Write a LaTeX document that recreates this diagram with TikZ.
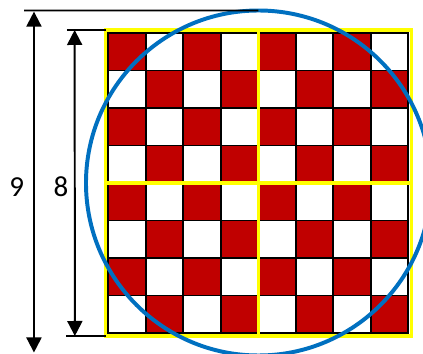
\documentclass[tikz,border=0pt]{standalone}
\usepackage{fontspec}
\setmainfont{Carlito}
\usepackage{xcolor}
\usetikzlibrary{
    arrows.meta,
    positioning,
    calc
}
\definecolor{boardred}{HTML}{C00000}
\definecolor{coinblue}{HTML}{0070C0}
\definecolor{quadyellow}{HTML}{FFFF00}
\tikzset{
    redcell/.style={
        draw=black,
        fill=boardred,
        line width=1.5pt
    }
}
\tikzset{
    whitecell/.style={
        draw=black,
        fill=white,
        line width=1.5pt
    }
}
\tikzset{
    quadrant/.style={
        draw=quadyellow,
        line width=2.6pt
    }
}
\tikzset{
    coin/.style={
        circle,
        draw=coinblue,
        line width=3pt,
        minimum size=9.2cm,
        inner sep=0pt,
        outer sep=0pt
    }
}
\tikzset{
    dimarrow/.style={
        draw=black,
        line width=1.5pt,
        <->,
        >={Triangle[length=4mm,width=4mm]}
    }
}
\tikzset{
    extline/.style={
        draw=black,
        line width=1.5pt
    }
}
\tikzset{
    dimlabel/.style={
        font=\fontsize{22}{26}\selectfont,
        inner sep=0pt
    }
}

\begin{document}
\begin{tikzpicture}

\useasboundingbox (-2.893,-0.56) rectangle (8.387,8.88);
\clip (-2.893,-0.56) rectangle (8.387,8.88);

% checkerboard
\foreach \col in {0,...,7}
  \foreach \row in {0,...,7}{
    \pgfmathtruncatemacro{\parity}{mod(\col+\row,2)}
    \ifnum\parity=1
      \draw[redcell] (\col,\row) rectangle ++(1,1);
    \else
      \draw[whitecell] (\col,\row) rectangle ++(1,1);
    \fi
  }

% quadrants
\coordinate (boardsw) at (-0.075,-0.075);
\coordinate (boardne) at (8.075,8.075);
\draw[quadrant] (boardsw) rectangle (boardne);
\draw[quadrant] (4,-0.075) -- (4,8.075);
\draw[quadrant] (-0.075,4) -- (8.075,4);

\node[coin] (circ) at (4,4) {};

% dimension 9
\coordinate (ninetick) at (-2.25,8.6);
\coordinate (ninetop) at (-1.987,8.57);
\coordinate (ninebot) at (-1.987,-0.52);
\draw[extline] (ninetick) -- (circ.north);
\draw[dimarrow] (ninetop) -- (ninebot);
\node[dimlabel] (nine) at (-2.45,3.89) {9};

% dimension 8
\coordinate (eighttick) at (-1.11,8.08);
\coordinate (eightend) at (-0.07,8.08);
\coordinate (eightbtick) at (-1.13,-0.08);
\coordinate (eightbend) at (-0.07,-0.08);
\draw[extline] (eighttick) -- (eightend);
\draw[extline] (eightbtick) -- (eightbend);
\draw[dimarrow] ($(eighttick)!0.2!(eightend)$) -- ($(eightbtick)!0.22!(eightbend)$);
\node[dimlabel] (eight) at (-1.267,3.89) {8};

\end{tikzpicture}
\end{document}
